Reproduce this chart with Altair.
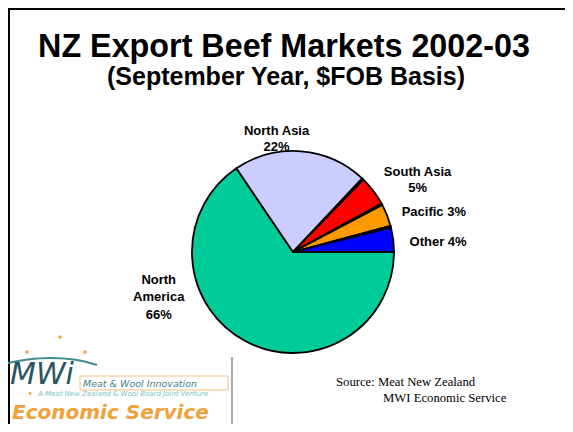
import math
import altair as alt
import pandas as pd

# ---- data (clockwise from 3 o'clock) ----
segments = ["North America", "North Asia", "Minor 1", "South Asia", "Minor 2", "Pacific", "Minor 3", "Other"]
shares = [65.6, 21.5, 0.25, 4.8, 0.25, 3.55, 0.25, 3.9]
colors = ["#00CC99", "#CCCCFF", "#FFFFFF", "#FF0000", "#FFFFFF", "#FF9900", "#FFFFFF", "#0000FF"]
labels = ["North\nAmerica\n66%", "North Asia\n22%", "", "South Asia\n5%", "", "Pacific 3%", "", "Other 4%"]

title_text = "NZ Export Beef Markets 2002-03"
subtitle_text = "(September Year, $FOB Basis)"
source_lines = ["Source:  Meat New Zealand", "MWI Economic Service"]

W, H = 557, 416
CX, CY = 285, 244
R = 101
total = sum(shares)

df = pd.DataFrame({"segment": segments, "share": shares, "idx": list(range(len(segments))), "label": labels})
theta_scale = alt.Scale(domain=[0, total], range=[math.pi / 2, 5 * math.pi / 2])

base = alt.Chart(df)

pie = base.mark_arc(outerRadius=R, stroke="black", strokeWidth=1.8, strokeJoin="round").encode(
    theta=alt.Theta("share:Q", stack=True, scale=theta_scale),
    color=alt.Color("segment:N", scale=alt.Scale(domain=segments, range=colors), legend=None),
    order=alt.Order("idx:Q"),
    x=alt.value(CX), y=alt.value(CY),
)

mid_base = base.transform_window(
    cum="sum(share)", sort=[alt.SortField("idx")], frame=[None, 0]
).transform_calculate(mid="datum.cum - datum.share / 2")

def label_layer(seg, dx, dy, lh):
    return mid_base.transform_filter(alt.datum.segment == seg).mark_text(
        radius=120, dx=dx, dy=dy, font="Liberation Sans", fontWeight="bold", fontSize=13,
        lineBreak="\n", lineHeight=lh, align="center", baseline="middle", color="black",
    ).encode(
        theta=alt.Theta("mid:Q", scale=theta_scale),
        text="label:N",
        x=alt.value(CX), y=alt.value(CY),
    )

lbls = [
    label_layer("North Asia", -26, -1, 16),
    label_layer("South Asia", 29, -7.5, 16),
    label_layer("Pacific", 29, 4, 16),
    label_layer("Other", 26, 5, 16),
    label_layer("North America", -78, -78, 17.5),
]

one = alt.Chart(pd.DataFrame({"a": [0]}))

title = one.mark_text(font="Liberation Sans", fontWeight="bold", fontSize=32.3, align="center", baseline="alphabetic").encode(
    x=alt.value(276), y=alt.value(49), text=alt.value(title_text))
subtitle = one.mark_text(font="Liberation Sans", fontWeight="bold", fontSize=25, align="center", baseline="alphabetic").encode(
    x=alt.value(278), y=alt.value(77), text=alt.value(subtitle_text))

src1 = one.mark_text(font="Liberation Serif", fontSize=12.7, align="left", baseline="alphabetic").encode(
    x=alt.value(328), y=alt.value(378), text=alt.value(source_lines[0]))
src2 = one.mark_text(font="Liberation Serif", fontSize=12.7, align="left", baseline="alphabetic").encode(
    x=alt.value(375), y=alt.value(394), text=alt.value(source_lines[1]))

# frame
frame_top = one.mark_rule(color="black", strokeWidth=2).encode(x=alt.value(0), x2=alt.value(W), y=alt.value(1))
frame_left = one.mark_rule(color="black", strokeWidth=2).encode(x=alt.value(1), y=alt.value(0), y2=alt.value(H))

# logo
logo_dots = alt.Chart(pd.DataFrame({"px": [52, 19, 77], "py": [329, 344, 344]})).mark_point(
    filled=True, color="#F4A340", size=14, opacity=1).encode(
    x=alt.X("px:Q", scale=None), y=alt.Y("py:Q", scale=None))
logo_arc = alt.Chart(pd.DataFrame({"px": [-1, 20, 42, 66, 89], "py": [355, 351.5, 350, 351.5, 357]})).mark_line(
    color="#3D8A8F", strokeWidth=2.2, interpolate="monotone").encode(
    x=alt.X("px:Q", scale=None), y=alt.Y("py:Q", scale=None))
mwi = one.mark_text(font="DejaVu Sans", fontStyle="italic", fontSize=30, align="left", baseline="alphabetic",
                    color="#2A5560").encode(x=alt.value(2), y=alt.value(376), text=alt.value("MWi"))
mwi_box = one.mark_rect(fill=None, stroke="#F2C27A", strokeWidth=1).encode(
    x=alt.value(72), x2=alt.value(220), y=alt.value(368), y2=alt.value(382))
mwi_sub = one.mark_text(font="DejaVu Sans", fontStyle="italic", fontSize=9.5, align="left", baseline="alphabetic",
                        color="#3D7F8A").encode(x=alt.value(75), y=alt.value(378.5), text=alt.value("Meat & Wool Innovation"))
mwi_dot = one.mark_point(filled=True, color="#F4A340", size=8, opacity=1).encode(x=alt.value(22), y=alt.value(385.5))
mwi_tiny = one.mark_text(font="DejaVu Sans", fontStyle="italic", fontSize=7, align="left", baseline="alphabetic",
                         color="#7BBFC4").encode(x=alt.value(30), y=alt.value(388),
                                                 text=alt.value("A Meat New Zealand & Wool Board Joint Venture"))
econ = one.mark_text(font="DejaVu Sans", fontStyle="italic", fontWeight="bold", fontSize=20, align="left", baseline="alphabetic",
                     color="#F0A23A").encode(x=alt.value(4), y=alt.value(410.5), text=alt.value("Economic Service"))
logo_edge = one.mark_rule(color="#AAAAAA", strokeWidth=2).encode(x=alt.value(224), y=alt.value(349), y2=alt.value(H))

chart = alt.layer(
    pie, *lbls, title, subtitle, src1, src2, frame_top, frame_left,
    logo_arc, logo_dots, mwi, mwi_box, mwi_sub, mwi_dot, mwi_tiny, econ, logo_edge,
).properties(
    width=W, height=H, padding=0,
    autosize=alt.AutoSizeParams(type="none"),
    background="white",
).configure_view(stroke=None)

chart.save("out.html", embed_options={"renderer": "svg", "actions": False})
